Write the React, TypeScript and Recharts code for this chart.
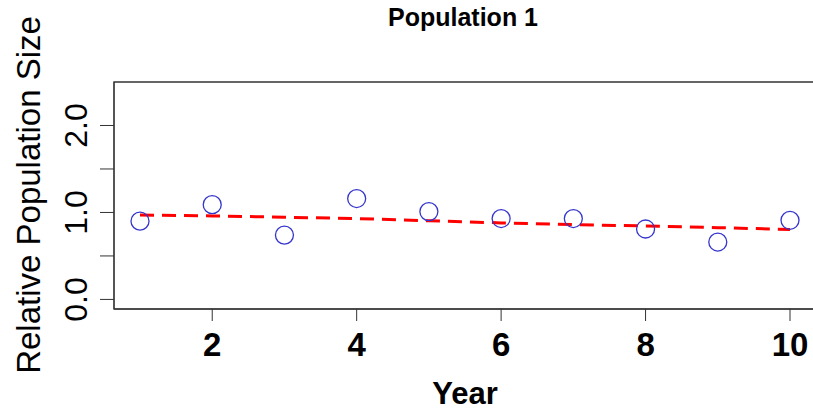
import React from 'react';
import {
  ComposedChart,
  Scatter,
  Line,
  XAxis,
  YAxis,
  ReferenceArea,
} from 'recharts';

const years = [1, 2, 3, 4, 5, 6, 7, 8, 9, 10];
const observed = [0.9, 1.09, 0.74, 1.16, 1.01, 0.93, 0.93, 0.81, 0.66, 0.91];
const trend = [0.97, 0.96, 0.945, 0.93, 0.905, 0.88, 0.86, 0.845, 0.825, 0.805];
const xTicks = [2, 4, 6, 8, 10];
const yTicks = [0, 0.5, 1, 1.5, 2];

const data = years.map((year, i) => ({ year, obs: observed[i], fit: trend[i] }));

const FONT = '"Liberation Sans", Arial, sans-serif';
const X_DOMAIN: [number, number] = [0.64, 10.36];
const Y_DOMAIN: [number, number] = [-0.11, 2.5];

const YTick = (props: any) => {
  const { x, y, payload } = props;
  if (payload.value % 1 !== 0) return <g />;
  const cx = x - 24;
  return (
    <text
      x={cx}
      y={y}
      transform={`rotate(-90 ${cx} ${y})`}
      textAnchor="middle"
      dominantBaseline="central"
      fontFamily={FONT}
      fontSize={32}
      fill="#000"
    >
      {payload.value.toFixed(1)}
    </text>
  );
};

const YTitle = () => (
  <text
    x={28}
    y={195}
    transform="rotate(-90 28 195)"
    textAnchor="middle"
    dominantBaseline="central"
    fontFamily={FONT}
    fontSize={33}
    fill="#000"
  >
    Relative Population Size
  </text>
);

const XTitle = () => (
  <text
    x={465}
    y={393}
    textAnchor="middle"
    dominantBaseline="central"
    fontFamily={FONT}
    fontSize={31}
    fontWeight="bold"
    fill="#000"
  >
    Year
  </text>
);

const Circle = (props: any) => {
  const { cx, cy } = props;
  return <circle cx={cx} cy={cy} r={9} fill="none" stroke="#3535cc" strokeWidth={1.3} />;
};

export default function App() {
  return (
    <div style={{ position: 'absolute', left: 0, top: 0, width: 813, height: 411, background: '#fff', overflow: 'hidden' }}>
      <div
        style={{
          position: 'absolute',
          left: 313,
          top: 5,
          width: 300,
          textAlign: 'center',
          fontFamily: FONT,
          fontWeight: 'bold',
          fontSize: 25,
          lineHeight: '25px',
        }}
      >
        Population 1
      </div>
      <ComposedChart
        width={813}
        height={411}
        data={data}
        margin={{ top: 82, right: -3, bottom: 0, left: 0 }}
      >
        <XAxis
          dataKey="year"
          type="number"
          domain={X_DOMAIN}
          ticks={xTicks}
          allowDataOverflow
          height={102}
          tickSize={12}
          tickMargin={12}
          stroke="#333"
          tick={{ fontSize: 33, fontWeight: 'bold', fill: '#000', fontFamily: FONT }}
          label={<XTitle />}
        />
        <YAxis
          type="number"
          domain={Y_DOMAIN}
          ticks={yTicks}
          allowDataOverflow
          width={114}
          tickSize={14}
          tickMargin={0}
          stroke="#333"
          tick={<YTick />}
          label={<YTitle />}
        />
        <ReferenceArea
          x1={X_DOMAIN[0]}
          x2={X_DOMAIN[1]}
          y1={Y_DOMAIN[0]}
          y2={Y_DOMAIN[1]}
          fill="none"
          stroke="#333"
          strokeWidth={1.3}
        />
        <Line
          dataKey="fit"
          stroke="#ff0000"
          strokeWidth={3}
          strokeDasharray="14 8"
          dot={false}
          type="linear"
          isAnimationActive={false}
        />
        <Scatter dataKey="obs" shape={<Circle />} isAnimationActive={false} />
      </ComposedChart>
    </div>
  );
}
